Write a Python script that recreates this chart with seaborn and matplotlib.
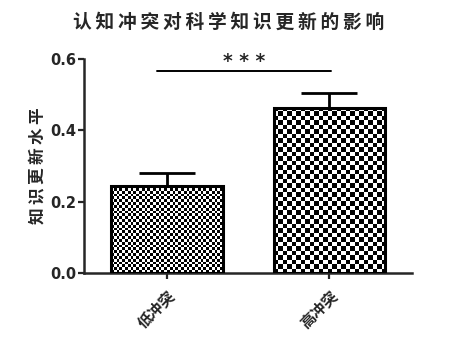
import numpy as np
import pandas as pd
import matplotlib.pyplot as plt
import seaborn as sns

CONDITIONS = ["低冲突", "高冲突"]
MEANS = [0.245, 0.463]
ERRORS = [0.036, 0.042]
CHECKER_PX = [2.8, 4.5]  # checker cell size in pixels, per bar
Y_TICKS = [0.0, 0.2, 0.4, 0.6]
TITLE = "认知冲突对科学知识更新的影响"
Y_LABEL = "知识更新水平"
SIG_TEXT = "* * *"
SIG_SPAN = (-0.06, 1.01)
SIG_Y = 0.566

CJK = ["Noto Sans CJK SC", "DejaVu Sans"]
THIN = "\u2009"

sns.set_style("ticks")
plt.rcParams["font.family"] = ["DejaVu Sans", "Noto Sans CJK SC"]

df = pd.DataFrame({"condition": CONDITIONS, "mean": MEANS, "err": ERRORS})

fig = plt.figure(figsize=(4.49, 3.55), dpi=100)
ax = fig.add_axes([0.187, 0.231, 0.731, 0.603])

sns.barplot(
    data=df, x="condition", y="mean", order=CONDITIONS, width=0.685,
    color="white", edgecolor="black", linewidth=2.2, errorbar=None, ax=ax,
)
ax.set_xlim(-0.512, 1.512)
ax.set_ylim(0, 0.6)

# checkerboard fill clipped to each bar
for patch, cell in zip(ax.patches, CHECKER_PX):
    x0, y0 = patch.get_x(), patch.get_y()
    w, h = patch.get_width(), patch.get_height()
    p0 = ax.transData.transform((x0, y0))
    p1 = ax.transData.transform((x0 + w, y0 + h))
    nx = max(int(round(abs(p1[0] - p0[0]) / cell)), 1)
    ny = max(int(round(abs(p1[1] - p0[1]) / cell)), 1)
    board = (np.add.outer(np.arange(ny), np.arange(nx)) % 2).astype(float)
    patch.set_facecolor("none")
    patch.set_zorder(3)
    im = ax.imshow(board, cmap="gray", extent=(x0, x0 + w, y0, y0 + h),
                   aspect="auto", interpolation="nearest", zorder=2,
                   origin="lower", vmin=0, vmax=1)
    im.set_clip_path(patch)

ax.errorbar(range(len(CONDITIONS)), df["mean"], yerr=[np.zeros(len(ERRORS)), df["err"]],
            fmt="none", ecolor="black", elinewidth=2, capsize=20, capthick=2, zorder=1)

ax.set_xlim(-0.512, 1.512)
ax.set_ylim(0, 0.6)
ax.set_yticks(Y_TICKS)
ax.set_yticklabels([f"{t:.1f}" for t in Y_TICKS], fontweight="bold", fontsize=10.5)
ax.set_xticks(range(len(CONDITIONS)))
ax.set_xticklabels(CONDITIONS, rotation=45, ha="right", rotation_mode="anchor",
                   family=CJK, fontweight="bold", fontsize=11)
ax.tick_params(axis="both", width=1.6, length=4.5, direction="out")
ax.tick_params(axis="y", pad=1)
ax.tick_params(axis="x", pad=6)
ax.set_xlabel("")
ax.set_ylabel(THIN.join(Y_LABEL), family=CJK, fontweight="bold", fontsize=12, labelpad=3)
for side in ["left", "bottom"]:
    ax.spines[side].set_linewidth(1.8)
sns.despine(ax=ax)

ax.plot(SIG_SPAN, [SIG_Y, SIG_Y], color="black", linewidth=1.4, clip_on=False)
ax.text(np.mean(SIG_SPAN), 0.592, SIG_TEXT, ha="center", va="center",
        fontsize=13.5, fontweight="bold", clip_on=False)

fig.suptitle(THIN.join(TITLE), x=0.51, y=0.965, family=CJK, fontweight="bold", fontsize=13.5)

fig.savefig("out.png", dpi=100)
